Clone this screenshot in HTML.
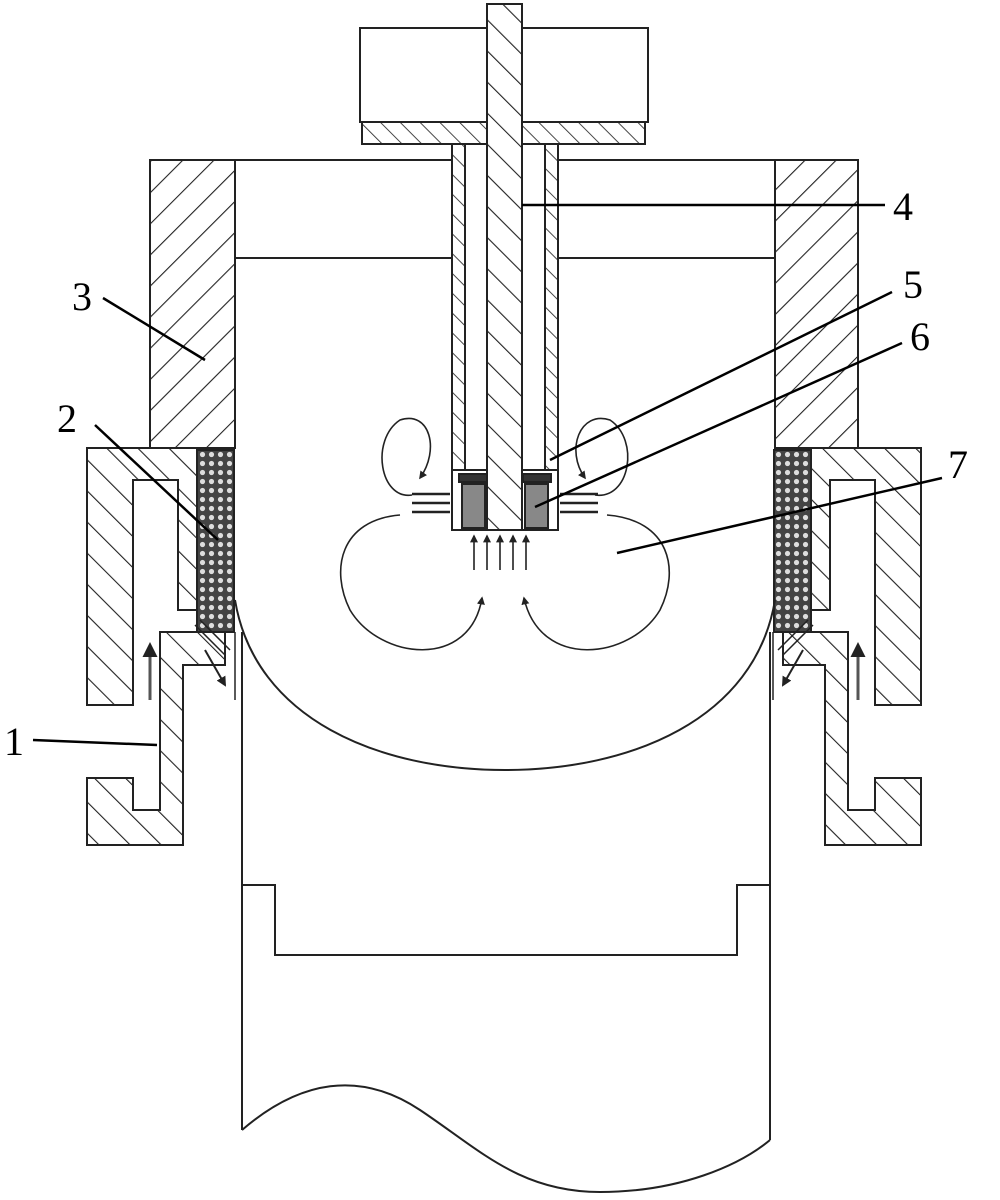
<!DOCTYPE html>
<html><head><style>html,body{margin:0;padding:0;background:#fff}svg{display:block}text{font-family:"Liberation Serif",serif;font-size:40px}</style></head>
<body>
<svg width="1000" height="1200" viewBox="0 0 1000 1200" xmlns="http://www.w3.org/2000/svg">
<defs>
<pattern id="h" patternUnits="userSpaceOnUse" width="22" height="22" patternTransform="rotate(45)">
<rect width="22" height="22" fill="#fff"/><line x1="0" y1="0" x2="0" y2="22" stroke="#222" stroke-width="2.2"/></pattern>
<pattern id="hb" patternUnits="userSpaceOnUse" width="22" height="22" patternTransform="rotate(-45)">
<rect width="22" height="22" fill="#fff"/><line x1="0" y1="0" x2="0" y2="22" stroke="#222" stroke-width="2.2"/></pattern>
<pattern id="hs" patternUnits="userSpaceOnUse" width="14" height="14" patternTransform="rotate(-45)">
<rect width="14" height="14" fill="#fff"/><line x1="0" y1="0" x2="0" y2="14" stroke="#333" stroke-width="1.8"/></pattern>
<pattern id="p" patternUnits="userSpaceOnUse" width="9" height="9">
<rect width="9" height="9" fill="#444"/><circle cx="4.5" cy="4.5" r="2.6" fill="#ddd"/></pattern>
<marker id="a" viewBox="0 0 10 10" refX="8" refY="5" markerWidth="5" markerHeight="5" orient="auto"><path d="M0,0L10,5L0,10z" fill="#222"/></marker>
</defs>
<g stroke="#222" stroke-width="2" fill="none">
<rect x="360" y="28" width="288" height="94" fill="#fff"/>
<rect x="362" y="122" width="283" height="22" fill="url(#hs)"/>
<rect x="452" y="144" width="13" height="330" fill="url(#hs)"/>
<rect x="545" y="144" width="13" height="330" fill="url(#hs)"/>
<line x1="235" y1="160" x2="452" y2="160"/><line x1="558" y1="160" x2="775" y2="160"/>
<line x1="235" y1="258" x2="452" y2="258"/><line x1="558" y1="258" x2="775" y2="258"/>
<rect x="452" y="470" width="106" height="60" fill="#fff"/>
<rect x="462" y="484" width="23" height="44" fill="#888"/>
<rect x="525" y="484" width="23" height="44" fill="#888"/>
<rect x="459" y="474" width="28" height="8" fill="#333"/>
<rect x="523" y="474" width="28" height="8" fill="#333"/>
<rect x="487" y="4" width="35" height="526" fill="url(#hb)"/>
<rect x="150" y="160" width="85" height="288" fill="url(#h)"/>
<rect x="775" y="160" width="83" height="288" fill="url(#h)"/>
<path d="M87,448 H197 V610 H178 V480 H133 V705 H87 Z" fill="url(#hb)"/>
<path d="M160,632 H225 V665 H183 V845 H87 V778 H133 V810 H160 Z" fill="url(#hb)"/>
<path d="M921,448 H811 V610 H830 V480 H875 V705 H921 Z" fill="url(#hb)"/>
<path d="M848,632 H783 V665 H825 V845 H921 V778 H875 V810 H848 Z" fill="url(#hb)"/>
<g id="L">
<rect x="197" y="450" width="37" height="182" fill="url(#p)"/>
<line x1="195" y1="625" x2="225" y2="655" stroke-width="1.5"/>
<line x1="200" y1="620" x2="230" y2="650" stroke-width="1.5"/>
<line x1="205" y1="650" x2="225" y2="685" marker-end="url(#a)"/>
<line x1="150" y1="700" x2="150" y2="645" stroke-width="3" stroke="#555" marker-end="url(#a)"/>
<line x1="235" y1="632" x2="235" y2="700" stroke-width="1.5"/>
</g>
<use href="#L" transform="translate(1008,0) scale(-1,1)"/>
<line x1="242" y1="632" x2="242" y2="1130"/><line x1="770" y1="632" x2="770" y2="1140"/>
<path d="M235,600 C255,720 380,770 505,770 C630,770 755,720 775,600"/>
<path d="M242,885 H275 V955 H737 V885 H770"/>
<path d="M242,1130 C300,1080 360,1070 420,1110 C480,1150 520,1192 600,1192 C680,1192 740,1165 770,1140"/>
<g stroke-width="1.6" marker-end="url(#a)">
<path d="M412,495 C380,500 370,440 400,420 C430,410 440,450 420,478"/>
<path d="M595,495 C630,500 640,440 610,420 C580,410 565,450 585,478"/>
<path d="M400,515 C340,520 330,570 350,610 C380,660 470,670 482,598"/>
<path d="M607,515 C670,520 680,570 660,610 C630,660 540,670 524,598"/>
<line x1="474" y1="570" x2="474" y2="536"/><line x1="487" y1="570" x2="487" y2="536"/>
<line x1="500" y1="570" x2="500" y2="536"/><line x1="513" y1="570" x2="513" y2="536"/>
<line x1="526" y1="570" x2="526" y2="536"/>
</g>
<g stroke-width="2.5"><line x1="412" y1="494" x2="450" y2="494"/><line x1="412" y1="503" x2="450" y2="503"/><line x1="412" y1="512" x2="450" y2="512"/>
<line x1="560" y1="494" x2="598" y2="494"/><line x1="560" y1="503" x2="598" y2="503"/><line x1="560" y1="512" x2="598" y2="512"/></g>
<g stroke="#000" stroke-width="2.5">
<line x1="522" y1="205" x2="885" y2="205"/>
<line x1="550" y1="460" x2="892" y2="292"/>
<line x1="535" y1="507" x2="902" y2="343"/>
<line x1="617" y1="553" x2="942" y2="478"/>
<line x1="103" y1="298" x2="205" y2="360"/>
<line x1="95" y1="425" x2="218" y2="540"/>
<line x1="33" y1="740" x2="157" y2="745"/>
</g>
</g>
<text x="893" y="220">4</text><text x="903" y="298">5</text><text x="910" y="350">6</text>
<text x="948" y="478">7</text><text x="72" y="310">3</text><text x="57" y="432">2</text><text x="4" y="755">1</text>
</svg>
</body></html>
